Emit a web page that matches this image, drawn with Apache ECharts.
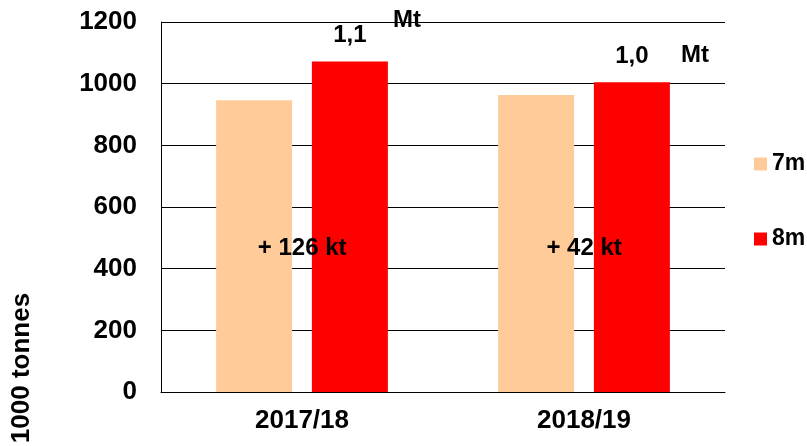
<!DOCTYPE html>
<html>
<head>
<meta charset="utf-8">
<script src="https://cdn.jsdelivr.net/npm/echarts@6/dist/echarts.min.js"></script>
<style>
html,body{margin:0;padding:0;background:#fff;}
#chart{width:807px;height:446px;}
</style>
</head>
<body>
<div id="chart"></div>
<script>
var categories = ['2017/18', '2018/19'];
var values7m = [946, 963];
var values8m = [1072, 1005];
var totalLabels = ['1,1', '1,0'];
var unitLabel = 'Mt';
var diffLabels = ['+ 126 kt', '+ 42 kt'];
var yTicks = [0, 200, 400, 600, 800, 1000, 1200];

var FONT = 'Liberation Sans, Arial, sans-serif';
var chart = echarts.init(document.getElementById('chart'));

var mtOffsets = [[57, -15], [63, -1]];

var option = {
  animation: false,
  backgroundColor: '#ffffff',
  grid: { left: 161, right: 82, top: 22, bottom: 54, containLabel: false, outerBoundsMode: 'none' },
  legend: {
    data: ['7m', '8m'],
    orient: 'vertical',
    left: 754, top: 152,
    padding: 0,
    icon: 'rect',
    itemWidth: 13, itemHeight: 13, itemGap: 51,
    textStyle: { fontFamily: FONT, fontWeight: 'bold', fontSize: 23, color: '#000', lineHeight: 24 }
  },
  xAxis: {
    type: 'category',
    data: categories,
    axisLine: { lineStyle: { color: '#000', width: 1 } },
    axisTick: { show: false },
    axisLabel: { fontFamily: FONT, fontWeight: 'bold', fontSize: 26, color: '#000', margin: 16 }
  },
  yAxis: {
    type: 'value',
    min: yTicks[0], max: yTicks[yTicks.length - 1], interval: 200,
    axisLine: { show: true, lineStyle: { color: '#000', width: 1 } },
    axisTick: { show: false },
    splitLine: { lineStyle: { color: '#000', width: 1 } },
    axisLabel: {
      fontFamily: FONT, fontWeight: 'bold', fontSize: 26, color: '#000', margin: 24,
      formatter: function (v) { return String(v); }
    }
  },
  graphic: [{
    type: 'text',
    x: 22, y: 368,
    rotation: Math.PI / 2,
    style: {
      text: '1000 tonnes',
      fontFamily: FONT, fontWeight: 'bold', fontSize: 26, fill: '#000',
      align: 'center', verticalAlign: 'middle'
    }
  }],
  series: [
    {
      name: '7m', type: 'bar', z: 3,
      barWidth: 76, barGap: '26%',
      itemStyle: { color: '#FFCC99' },
      data: values7m,
      label: {
        show: true, position: 'insideBottom', distance: 132, offset: [48, 0],
        formatter: function (p) { return diffLabels[p.dataIndex]; },
        fontFamily: FONT, fontWeight: 'bold', fontSize: 24, color: '#000'
      }
    },
    {
      name: '8m', type: 'bar', stack: 'b8',
      barWidth: 76, barGap: '26%',
      itemStyle: { color: '#FF0000' },
      data: values8m,
      label: {
        show: true, position: 'top', distance: 14,
        formatter: function (p) { return totalLabels[p.dataIndex]; },
        fontFamily: FONT, fontWeight: 'bold', fontSize: 24, color: '#000'
      }
    },
    {
      name: 'unit', type: 'bar', stack: 'b8',
      barWidth: 76, barGap: '26%',
      itemStyle: { color: 'rgba(0,0,0,0)' },
      data: categories.map(function (c, i) {
        return { value: 0, label: { offset: mtOffsets[i] } };
      }),
      label: {
        show: true, position: 'top', distance: 14,
        formatter: function () { return unitLabel; },
        fontFamily: FONT, fontWeight: 'bold', fontSize: 24, color: '#000'
      }
    }
  ]
};
chart.setOption(option);
</script>
</body>
</html>
